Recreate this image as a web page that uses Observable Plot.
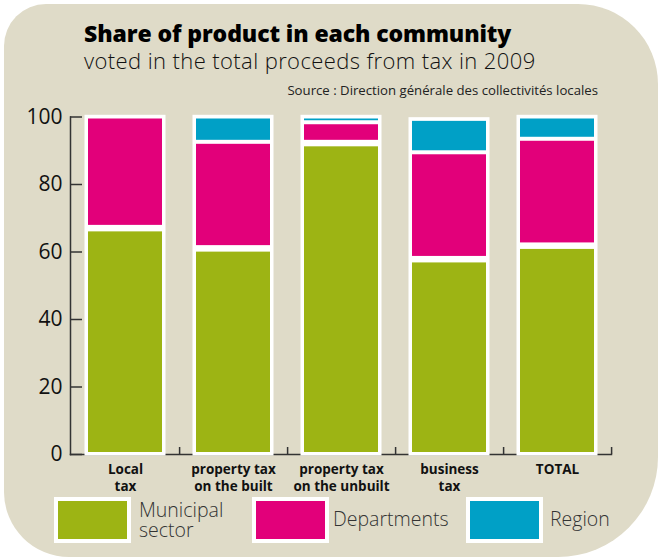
<!DOCTYPE html>
<html><head><meta charset="utf-8">
<script src="https://cdn.jsdelivr.net/npm/d3@7"></script>
<script src="https://cdn.jsdelivr.net/npm/@observablehq/plot@0.6"></script>
<style>
html,body{margin:0;padding:0;background:#fff;}
#frame{position:relative;width:658px;height:559px;overflow:hidden;font-family:"Open Sans",sans-serif;}
#bg{position:absolute;left:4px;top:4px;width:654px;height:553px;background:#dfdbc8;border-radius:42px 80px 100px 65px;}
#title{position:absolute;left:84px;top:20px;font-size:23px;font-weight:800;line-height:26px;color:#000;white-space:nowrap;letter-spacing:-0.1px;}
#subtitle{position:absolute;left:84px;top:45.5px;font-size:22px;font-weight:300;line-height:28px;color:#111;white-space:nowrap;letter-spacing:0.4px;}
#source{position:absolute;right:60px;top:82px;font-size:13.2px;font-weight:400;line-height:16px;color:#222;white-space:nowrap;}
#chart{position:absolute;left:0;top:90px;}
.lg-box{position:absolute;top:497px;width:77px;height:46px;box-sizing:border-box;border:4px solid #fff;}
.lg-text{position:absolute;font-size:19.5px;font-weight:300;line-height:20px;color:#333;white-space:nowrap;}
</style>
</head>
<body>
<div id="frame">
  <div id="bg"></div>
  <div id="title">Share of product in each community</div>
  <div id="subtitle">voted in the total proceeds from tax in 2009</div>
  <div id="source">Source : Direction générale des collectivités locales</div>
  <div id="chart"></div>
  <div id="legend"></div>
</div>
<script>
const categories = ["Local tax", "property tax on the built", "property tax on the unbuilt", "business tax", "TOTAL"];
const tickLabels = ["Local\ntax", "property tax\non the built", "property tax\non the unbuilt", "business\ntax", "TOTAL"];
const series = ["Municipal sector", "Departments", "Region"];
const legendLabels = ["Municipal\nsector", "Departments", "Region"];
const municipal = [67, 61, 92.2, 57.8, 61.8];
const departments = [33, 31.5, 6.1, 31.6, 31.6];
const region = [0, 7.5, 1.7, 9.9, 6.6];
const colors = ["#9db414", "#e2007a", "#00a0c6"];
const yTicks = [0, 20, 40, 60, 80, 100];

// stacked table built from the arrays
const values = [municipal, departments, region];
const rows = [];
const totals = [];
categories.forEach((c, i) => {
  let base = 0;
  series.forEach((s, k) => {
    const v = values[k][i];
    rows.push({category: c, series: s, y1: base, y2: base + v});
    base += v;
  });
  totals.push({category: c, total: base});
});

const W = 658, H = 410, ML = 70, MR = 47, MT = 26.5, MB = 46;
const step = (W - ML - MR) / categories.length;

// segment insets per series (white gaps between segments)
const insets = [[3.5, 2], [2, 3], [2, 2]];

const segMarks = series.map((s, k) =>
  Plot.barY(rows.filter(r => r.series === s && r.y2 > r.y1), {
    x: "category", y1: "y1", y2: "y2", fill: colors[k],
    insetTop: insets[k][0], insetBottom: insets[k][1]
  })
);

const chart = Plot.plot({
  width: W, height: H,
  marginLeft: ML, marginRight: MR, marginTop: MT, marginBottom: MB,
  style: {background: "transparent", fontFamily: "Open Sans, sans-serif", color: "#111"},
  x: {domain: categories, paddingInner: 0.316, paddingOuter: 0.158},
  y: {domain: [0, 100]},
  marks: [
    Plot.frame({anchor: "left", stroke: "#333", strokeWidth: 1.5}),
    Plot.frame({anchor: "bottom", stroke: "#333", strokeWidth: 1.5}),
    Plot.ruleX(categories, {x: d => d, y1: 0, y2: 0, insetTop: -7, dx: step / 2, stroke: "#333", strokeWidth: 1.5}),
    Plot.barY(totals, {x: "category", y1: 0, y2: "total", fill: "white",
      insetLeft: -3.5, insetRight: -3.5, insetTop: -1.7, insetBottom: -1.5}),
    ...segMarks,
    Plot.axisY({ticks: yTicks, tickSize: 12, dx: 12, tickFormat: () => "", label: null, stroke: "#333", strokeWidth: 1.5}),
    Plot.axisY({ticks: yTicks, tickSize: 0, tickPadding: 8, label: null, fontSize: 21, fontWeight: 400}),
    Plot.axisX({tickSize: 0, tickPadding: 8, label: null, fontSize: 13.5, fontWeight: 700,
      lineHeight: 1.25, tickFormat: d => tickLabels[categories.indexOf(d)]})
  ]
});
document.getElementById("chart").appendChild(chart);

// legend
const legend = document.getElementById("legend");
const boxLeft = [54, 252, 466];
const textLeft = [139, 333, 550];
series.forEach((s, k) => {
  const b = document.createElement("div");
  b.className = "lg-box";
  b.style.left = boxLeft[k] + "px";
  b.style.background = colors[k];
  legend.appendChild(b);
  const lines = legendLabels[k].split("\n");
  lines.forEach((line, j) => {
    const t = document.createElement("div");
    t.className = "lg-text";
    t.style.left = textLeft[k] + "px";
    t.style.top = (lines.length > 1 ? 500 + j * 20 : 509) + "px";
    t.textContent = line;
    legend.appendChild(t);
  });
});
</script>
</body></html>
